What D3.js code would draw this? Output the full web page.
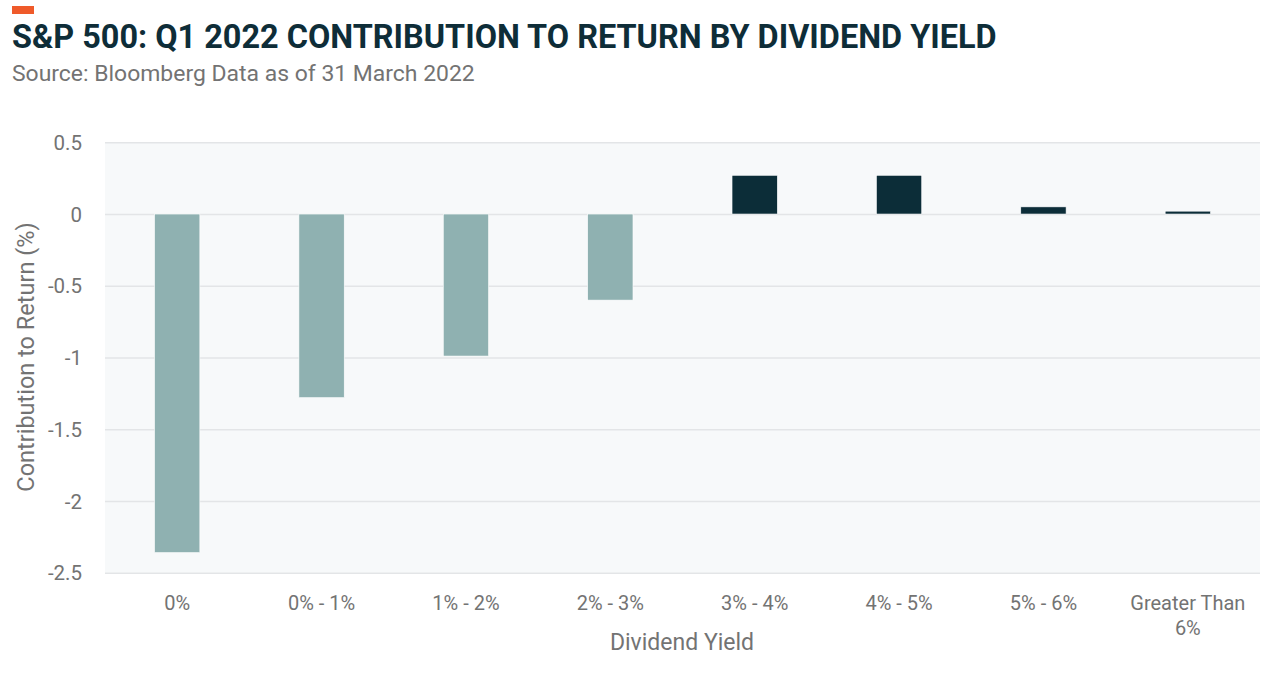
<!DOCTYPE html>
<html><head><meta charset="utf-8">
<script src="https://cdn.jsdelivr.net/npm/d3@7"></script>
<style>
html,body{margin:0;padding:0;background:#fff;}
svg text{font-family:"Roboto","Liberation Sans",sans-serif;}
</style></head>
<body><svg id="c" width="1280" height="680"></svg>
<script>
const categories = ["0%","0% - 1%","1% - 2%","2% - 3%","3% - 4%","4% - 5%","5% - 6%","Greater Than 6%"];
const values = [-2.36,-1.28,-0.99,-0.60,0.27,0.27,0.05,0.02];
const yTicks = [0.5,0,-0.5,-1,-1.5,-2,-2.5];
const title = "S&P 500: Q1 2022 CONTRIBUTION TO RETURN BY DIVIDEND YIELD";
const subtitle = "Source: Bloomberg Data as of 31 March 2022";
const yTitle = "Contribution to Return (%)";
const xTitle = "Dividend Yield";

const svg = d3.select("#c");
const m = {left:105, right:1260, top:142.3, bottom:572.7};
const gray = "#737373";

svg.append("rect").attr("x",12).attr("y",6).attr("width",22).attr("height",8).attr("fill","#ef5a2a");

function fitText(sel, w){
  const len = sel.node().getComputedTextLength();
  const fs = parseFloat(sel.attr("font-size"));
  sel.attr("font-size", fs * w / len);
}
const t = svg.append("text").attr("x",12).attr("y",48).attr("font-size",30).attr("font-weight",700)
  .attr("fill","#0e2d38").text(title);
fitText(t, 985);
const st = svg.append("text").attr("x",12).attr("y",81).attr("font-size",22).attr("font-weight",400)
  .attr("fill",gray).text(subtitle);
fitText(st, 463);

const x = d3.scaleBand().domain(categories).range([m.left,m.right]).paddingInner(0.686).paddingOuter(0.343);
const y = d3.scaleLinear().domain([-2.5,0.5]).range([m.bottom,m.top]);

svg.append("rect").attr("x",m.left).attr("y",m.top).attr("width",m.right-m.left).attr("height",m.bottom-m.top).attr("fill","#f7f9fa");

const ya = svg.append("g").attr("transform",`translate(${m.left},0)`)
  .call(d3.axisLeft(y).tickValues(yTicks).tickSize(-(m.right-m.left)).tickFormat(d=>String(d)).tickPadding(23));
ya.select(".domain").remove();
ya.selectAll(".tick line").attr("stroke","#e3e5e7").attr("stroke-width",1.5);
ya.selectAll(".tick text").attr("font-size",20.5).attr("fill",gray).attr("font-weight",400)
  .attr("font-family","Roboto, sans-serif").attr("dy","0.35em");

svg.append("g").selectAll("rect").data(values).join("rect")
  .attr("x",(d,i)=>x(categories[i]))
  .attr("width",x.bandwidth())
  .attr("y",d=>y(Math.max(0,d)))
  .attr("height",d=>Math.abs(y(d)-y(0)))
  .attr("fill",d=>d<0?"#8fb1b1":"#0c2d38")
  .attr("stroke","#ffffff").attr("stroke-width",0.6);

const xa = svg.append("g").attr("transform",`translate(0,${m.bottom})`)
  .call(d3.axisBottom(x).tickSize(0).tickPadding(0).tickFormat(""));
xa.select(".domain").remove();
xa.selectAll(".tick").each(function(d){
  const g = d3.select(this);
  const lines = d === "Greater Than 6%" ? ["Greater Than","6%"] : [d];
  const tx = g.append("text").attr("text-anchor","middle").attr("font-size",20).attr("font-weight",400)
    .attr("fill",gray).attr("y",37);
  lines.forEach((l,i)=>tx.append("tspan").attr("x",0).attr("dy",i?25:0).text(l));
});

svg.append("text").attr("x",682).attr("y",650).attr("text-anchor","middle").attr("font-size",23).attr("font-weight",400)
  .attr("fill",gray).text(xTitle);
svg.append("text").attr("transform","translate(34,357) rotate(-90)").attr("text-anchor","middle").attr("font-size",23.5).attr("font-weight",400)
  .attr("fill",gray).text(yTitle);
</script></body></html>
